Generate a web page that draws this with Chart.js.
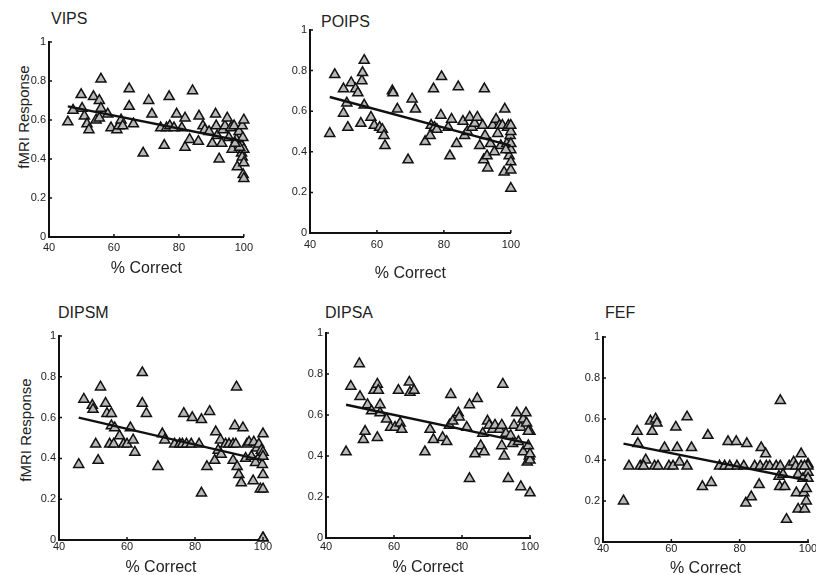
<!DOCTYPE html>
<html>
<head>
<meta charset="utf-8">
<script src="https://cdn.jsdelivr.net/npm/chart.js@4/dist/chart.umd.min.js"></script>
<style>
  body { margin:0; background:#fff; width:816px; height:575px; overflow:hidden; position:relative;
         font-family: Arial, 'Liberation Sans', sans-serif; }
  .ttl { position:absolute; font-size:16px; line-height:16px; color:#222; }
  .ylab { position:absolute; font-size:15px; line-height:15px; color:#222; white-space:nowrap;
          transform: translate(-50%,-50%) rotate(-90deg); }
</style>
</head>
<body>
<div class="ttl" style="left:51px;top:11px">VIPS</div>
<div class="ttl" style="left:321px;top:14px">POIPS</div>
<div class="ttl" style="left:58px;top:305px">DIPSM</div>
<div class="ttl" style="left:325px;top:305px">DIPSA</div>
<div class="ttl" style="left:605px;top:305px">FEF</div>
<div class="ylab" style="left:23px;top:117px">fMRI Response</div>
<div class="ylab" style="left:25px;top:430px">fMRI Response</div>
<script>
// tick values shared by all panels
const xTickValues = [40, 60, 80, 100];
const yTickValues = [0, 0.2, 0.4, 0.6, 0.8, 1];

// VIPS
const vipsX = [45.8,47.4,49.9,50.2,50.9,51.7,52.3,53.7,54.5,55.5,56.0,55.5,56.0,58.1,59.1,60.9,61.5,62.2,62.7,64.7,
  64.7,66.0,69.0,70.7,71.7,74.4,75.5,76.2,77.0,77.2,78.5,79.3,80.9,81.9,81.9,83.3,84.2,86.0,86.2,87.4,
  88.0,89.3,90.3,91.3,91.5,91.8,92.4,93.2,93.6,94.2,94.9,95.4,96.0,96.4,97.0,97.7,98.0,98.5,99.0,99.3,
  99.5,100,99.7,100,99.5,100,99.8,100,98.7,97.3];
const vipsY = [0.59,0.65,0.73,0.66,0.62,0.58,0.55,0.72,0.60,0.70,0.81,0.61,0.66,0.63,0.56,0.55,0.57,0.60,0.57,0.76,
  0.67,0.58,0.43,0.70,0.63,0.56,0.47,0.56,0.72,0.57,0.56,0.63,0.56,0.61,0.46,0.50,0.75,0.49,0.62,0.57,
  0.55,0.54,0.48,0.63,0.57,0.52,0.40,0.48,0.55,0.57,0.61,0.51,0.56,0.45,0.57,0.50,0.36,0.54,0.48,0.43,
  0.57,0.60,0.51,0.45,0.41,0.38,0.32,0.30,0.46,0.48];
const vipsFitX = [45.8, 100];
const vipsFitY = [0.67, 0.49];

// POIPS
const poipsX = [45.9,47.4,50.0,50.0,51.3,51.0,52.3,53.6,54.3,55.2,55.5,55.7,56.2,56.2,58.2,59.2,60.8,61.6,62.1,62.4,
  64.6,64.8,66.1,69.3,70.5,71.5,74.4,75.9,76.2,76.9,77.2,77.9,79.1,79.3,81.3,81.8,82.3,83.8,84.3,85.7,
  86.2,87.0,87.7,88.4,89.2,90.0,90.7,91.6,91.9,92.1,92.3,92.9,93.1,93.9,94.6,95.1,95.6,96.1,96.6,97.0,
  97.5,98.0,98.2,98.8,99.0,99.3,99.5,99.8,100,100,100,100,100,100,98.5,100];
const poipsY = [0.49,0.78,0.71,0.59,0.52,0.64,0.74,0.71,0.69,0.54,0.75,0.79,0.85,0.63,0.57,0.53,0.52,0.51,0.48,0.43,
  0.70,0.69,0.61,0.36,0.66,0.61,0.45,0.48,0.53,0.71,0.52,0.51,0.58,0.77,0.52,0.38,0.56,0.44,0.72,0.55,
  0.48,0.50,0.57,0.52,0.54,0.57,0.43,0.53,0.36,0.71,0.48,0.38,0.32,0.44,0.53,0.40,0.56,0.49,0.53,0.43,
  0.53,0.30,0.61,0.44,0.52,0.53,0.38,0.48,0.50,0.41,0.35,0.31,0.22,0.44,0.41,0.53];
const poipsFitX = [45.9, 100];
const poipsFitY = [0.67, 0.43];

// DIPSM
const dipsmX = [45.8,47.3,49.8,50.0,50.8,51.5,52.2,53.7,54.1,54.9,55.4,55.4,56.1,56.4,57.8,59.0,60.0,61.0,61.8,62.3,
  64.5,64.5,65.7,69.1,70.4,71.1,74.0,75.5,76.3,76.7,77.5,78.9,79.2,81.2,81.9,81.9,83.5,84.3,85.8,86.1,
  86.8,87.5,87.7,89.0,90.0,91.2,91.2,91.7,92.0,92.2,92.4,92.9,93.6,94.1,94.9,95.3,95.9,96.6,97.1,97.3,
  97.8,98.2,98.8,99.0,99.2,99.5,99.8,100,100,100,100,100,100,100];
const dipsmY = [0.37,0.69,0.66,0.64,0.47,0.39,0.75,0.67,0.62,0.47,0.62,0.56,0.47,0.55,0.51,0.47,0.47,0.55,0.49,0.43,
  0.82,0.67,0.62,0.36,0.52,0.49,0.47,0.47,0.47,0.62,0.47,0.47,0.60,0.47,0.59,0.23,0.36,0.63,0.39,0.53,
  0.44,0.49,0.42,0.47,0.47,0.47,0.39,0.56,0.47,0.75,0.36,0.32,0.28,0.55,0.40,0.47,0.48,0.41,0.29,0.48,
  0.38,0.45,0.47,0.41,0.25,0.44,0.37,0.52,0.43,0.32,0.25,0.01,0.01,0.41];
const dipsmFitX = [45.8, 100];
const dipsmFitY = [0.60, 0.39];

// DIPSA
const dipsaX = [45.9,47.3,49.8,50.0,51.0,51.5,52.2,53.4,54.1,55.1,55.1,55.4,55.9,55.9,57.8,59.0,60.3,61.3,61.8,62.3,
  64.5,64.7,65.9,69.1,70.6,71.6,74.3,75.5,76.3,76.7,77.3,78.9,79.2,81.4,82.2,82.2,83.8,84.5,85.5,86.1,
  86.5,87.5,88.0,89.0,89.7,91.0,91.7,91.7,92.0,92.4,92.9,93.6,94.3,94.9,95.3,96.1,96.6,97.3,97.3,98.0,
  98.0,98.8,99.0,99.2,99.5,99.8,100,100,100,100,99.5];
const dipsaY = [0.42,0.74,0.85,0.69,0.48,0.52,0.65,0.62,0.72,0.75,0.49,0.72,0.65,0.61,0.58,0.54,0.54,0.72,0.56,0.53,
  0.76,0.71,0.72,0.42,0.53,0.48,0.49,0.47,0.55,0.70,0.57,0.61,0.59,0.54,0.29,0.65,0.41,0.68,0.45,0.51,
  0.42,0.57,0.55,0.53,0.55,0.53,0.55,0.45,0.75,0.40,0.51,0.29,0.50,0.46,0.55,0.61,0.47,0.25,0.54,0.58,
  0.42,0.61,0.56,0.37,0.45,0.40,0.52,0.22,0.38,0.41,0.52];
const dipsaFitX = [45.9, 100];
const dipsaFitY = [0.65, 0.46];

// FEF
const fefX = [46.0,47.6,50.0,50.2,50.9,52.5,51.9,53.9,54.4,55.4,55.8,55.1,56.1,58.0,59.3,60.5,61.3,61.7,62.4,64.6,
  64.6,65.9,69.1,70.7,71.7,74.1,75.6,76.6,77.1,79.0,79.2,81.2,81.8,82.1,83.4,84.4,85.7,86.0,86.3,87.6,
  87.8,88.8,90.7,91.5,91.7,91.9,91.9,92.7,93.2,93.7,94.5,95.8,96.4,96.6,97.1,97.1,98.0,98.0,98.5,98.8,
  99.0,99.5,99.5,100,100,100,100,99.0];
const fefY = [0.20,0.37,0.54,0.48,0.37,0.40,0.37,0.59,0.54,0.60,0.58,0.37,0.37,0.46,0.37,0.37,0.56,0.46,0.39,0.61,
  0.37,0.46,0.27,0.52,0.29,0.37,0.37,0.49,0.37,0.49,0.37,0.37,0.19,0.48,0.22,0.37,0.28,0.37,0.46,0.43,
  0.37,0.37,0.37,0.32,0.27,0.69,0.37,0.33,0.27,0.11,0.37,0.39,0.37,0.24,0.33,0.16,0.43,0.37,0.31,0.24,
  0.16,0.26,0.20,0.38,0.34,0.31,0.37,0.37];
const fefFitX = [46, 100];
const fefFitY = [0.48, 0.30];

const FONT = "Arial, 'Liberation Sans', sans-serif";
const Y_AXIS_W = 45, PAD_TOP = 10, PAD_RIGHT = 12;

// small tick marks pointing into the plot, like the matlab figure
const inwardTicks = {
  id: 'inwardTicks',
  afterDraw(chart) {
    const {ctx, chartArea: a, scales: {x, y}} = chart;
    ctx.save();
    ctx.strokeStyle = '#111';
    ctx.lineWidth = 1.5;
    ctx.beginPath();
    xTickValues.forEach(v => {
      const px = x.getPixelForValue(v);
      ctx.moveTo(px, a.bottom); ctx.lineTo(px, a.bottom - 3);
    });
    yTickValues.forEach(v => {
      const py = y.getPixelForValue(v);
      ctx.moveTo(a.left, py); ctx.lineTo(a.left + 3, py);
    });
    ctx.stroke();
    ctx.restore();
  }
};

function pts(xs, ys){
  return xs.map((x, i) => ({x: x, y: ys[i]}));
}

function make_panel(p){
  const [L, T, R, B] = p.area;
  const w = (R - L) + Y_AXIS_W + PAD_RIGHT;
  const h = PAD_TOP + (B - T) + p.xh;
  const canvas = document.createElement('canvas');
  canvas.width = w; canvas.height = h;
  canvas.style.cssText = `position:absolute;left:${L - Y_AXIS_W}px;top:${T - PAD_TOP}px;width:${w}px;height:${h}px`;
  document.body.appendChild(canvas);

  return new Chart(canvas, {
    type: 'scatter',
    data: {
      datasets: [{
        type: 'line',
        data: pts(p.fitX, p.fitY),
        borderColor: '#111',
        borderWidth: 2.4,
        pointRadius: 0,
        fill: false
      }, {
        data: pts(p.x, p.y),
        pointStyle: 'triangle',
        pointRadius: 5.8,
        backgroundColor: '#b8b8b8',
        borderColor: '#111',
        borderWidth: 1.5,
        clip: false
      }]
    },
    options: {
      responsive: false,
      animation: false,
      devicePixelRatio: 1,
      layout: { padding: { left: 0, top: PAD_TOP, right: PAD_RIGHT, bottom: 0 } },
      plugins: { legend: { display: false }, tooltip: { enabled: false } },
      scales: {
        x: {
          type: 'linear', min: 40, max: 100,
          afterBuildTicks: s => { s.ticks = xTickValues.map(v => ({value: v})); },
          afterFit: s => { s.height = p.xh; },
          grid: { display: false, drawTicks: false },
          border: { color: '#111', width: 2 },
          ticks: { padding: p.tickPad, color: '#222', maxRotation: 0, font: { size: 11, family: FONT } },
          title: { display: true, text: '% Correct', color: '#222', padding: 0, font: { size: 16, family: FONT } }
        },
        y: {
          type: 'linear', min: 0, max: 1,
          afterBuildTicks: s => { s.ticks = yTickValues.map(v => ({value: v})); },
          afterFit: s => { s.width = Y_AXIS_W; },
          grid: { display: false, drawTicks: false },
          border: { color: '#111', width: 2 },
          ticks: { padding: 3, color: '#222', font: { size: 11, family: FONT },
                   callback: v => String(Math.round(v * 10) / 10) }
        }
      }
    },
    plugins: [inwardTicks]
  });
}

// area = plot box on the page [left, top, right, bottom]
[
  { x: vipsX,  y: vipsY,  fitX: vipsFitX,  fitY: vipsFitY,  area: [49, 42, 245, 237],  xh: 41, tickPad: 4 },
  { x: poipsX, y: poipsY, fitX: poipsFitX, fitY: poipsFitY, area: [310, 30, 513, 233], xh: 50, tickPad: 5 },
  { x: dipsmX, y: dipsmY, fitX: dipsmFitX, fitY: dipsmFitY, area: [59, 336, 263, 540], xh: 37, tickPad: 0 },
  { x: dipsaX, y: dipsaY, fitX: dipsaFitX, fitY: dipsaFitY, area: [326, 333, 530, 538], xh: 39, tickPad: 2 },
  { x: fefX,   y: fefY,   fitX: fefFitX,   fitY: fefFitY,   area: [603, 337, 808, 542], xh: 36, tickPad: 0 }
].forEach(make_panel);
</script>
</body>
</html>
